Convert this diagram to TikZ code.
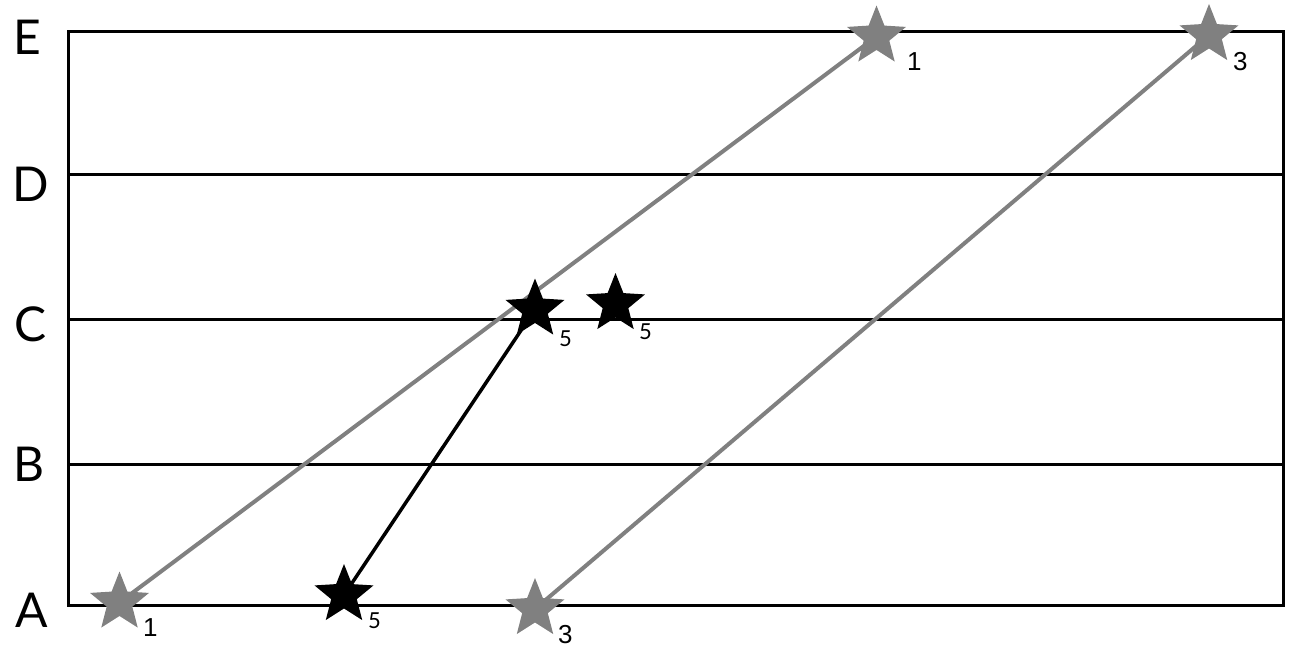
\documentclass[tikz,border=0pt]{standalone}
\usepackage{fontspec}
\setmainfont{Lato}
\newfontfamily\arialf{Liberation Sans}
\usetikzlibrary{shapes.geometric}
\definecolor{stargray}{HTML}{808080}
\tikzset{
  rowline/.style={line width=3pt, black},
  rowlabel/.style={font=\fontsize{48}{48}\selectfont, inner sep=0pt},
  starbase/.style={star, star points=5, star point ratio=2.3, minimum size=62pt, inner sep=0pt, draw=none},
  graystar/.style={starbase, fill=stargray},
  blackstar/.style={starbase, fill=black},
  numlabA/.style={font=\arialf\fontsize{26}{26}\selectfont, inner sep=0pt, anchor=west},
  numlabB/.style={font=\fontsize{22}{22}\selectfont, inner sep=0pt, anchor=west},
  grayconn/.style={line width=4pt, stargray},
  blackconn/.style={line width=3.5pt, black}
}
\begin{document}
\begin{tikzpicture}[x=1pt, y=-1pt]
\useasboundingbox (0,0) rectangle (1293,647);
% grid
\coordinate (tl) at (68,32);
\coordinate (br) at (1283,605);
\draw[rowline] (tl) rectangle (br);
\coordinate (dL) at (68,175); \coordinate (dR) at (1283,175);
\coordinate (cL) at (68,319); \coordinate (cR) at (1283,319);
\coordinate (bL) at (68,464); \coordinate (bR) at (1283,464);
\draw[rowline] (dL) -- (dR);
\draw[rowline] (cL) -- (cR);
\draw[rowline] (bL) -- (bR);
% row labels
\node[rowlabel] (labE) at (27,37) {E};
\node[rowlabel] (labD) at (31,184) {D};
\node[rowlabel] (labC) at (31,324) {C};
\node[rowlabel] (labB) at (29,464) {B};
\node[rowlabel] (labA) at (32,610) {A};
% star positions
\coordinate (pA1) at (119.5,602.5);
\coordinate (pE1) at (876.5,36.5);
\coordinate (pA3) at (535,609);
\coordinate (pE3) at (1209,35);
\coordinate (pA5) at (344,595);
\coordinate (pC5) at (535,309.5);
\coordinate (pC5b) at (615.5,304);
% connectors
\draw[grayconn] (pA1) -- (pE1);
\draw[grayconn] (pA3) -- (pE3);
\draw[blackconn] (pA5) -- (pC5);
% stars
\node[graystar] (sA1) at (pA1) {};
\node[graystar] (sE1) at (pE1) {};
\node[graystar] (sA3) at (pA3) {};
\node[graystar] (sE3) at (pE3) {};
\node[blackstar] (sA5) at (pA5) {};
\node[blackstar] (sC5) at (pC5) {};
\node[blackstar] (sC5b) at (pC5b) {};
% labels
\node[numlabA] (nA1) at (143,628) {1};
\node[numlabA] (nE1) at (907,62) {1};
\node[numlabA] (nA3) at (558,635) {3};
\node[numlabA] (nE3) at (1233,62) {3};
\node[numlabB] (nA5) at (368,621) {5};
\node[numlabB] (nC5) at (559,339) {5};
\node[numlabB] (nC5b) at (639,332) {5};
\end{tikzpicture}
\end{document}
